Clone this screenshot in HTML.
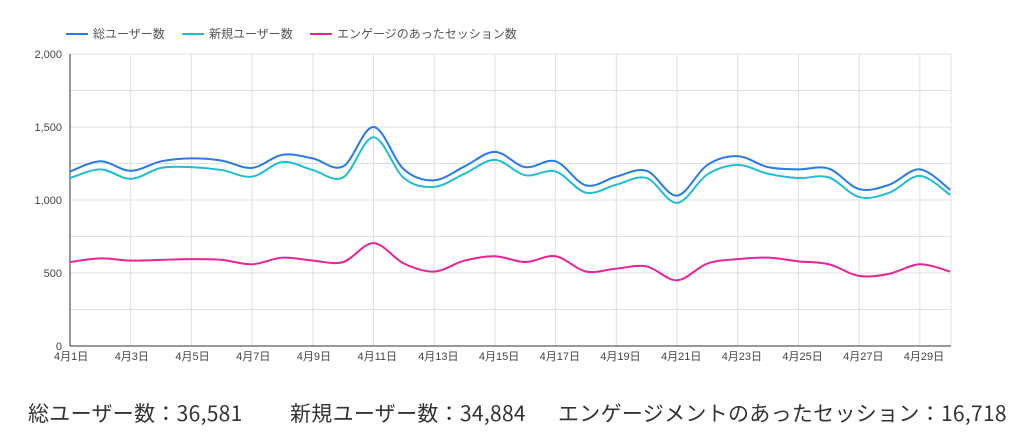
<!DOCTYPE html><html><head><meta charset="utf-8"><style>
body{margin:0;background:#fff;width:1024px;height:443px;overflow:hidden;font-family:"Liberation Sans","Noto Sans CJK JP",sans-serif}
.b{position:absolute;top:398px;font-size:21px;letter-spacing:0.3px;color:#333;white-space:nowrap;font-family:"Noto Sans CJK JP",sans-serif;line-height:30px}
</style></head><body>
<svg id="s" width="1024" height="443" style="position:absolute;left:0;top:0" font-family="Liberation Sans, Noto Sans CJK JP, sans-serif"></svg>
<div class="b" style="left:28px">総ユーザー数：36,581</div>
<div class="b" style="left:290px">新規ユーザー数：34,884</div>
<div class="b" style="left:558px">エンゲージメントのあったセッション：16,718</div>
<script>
var s=document.getElementById('s'),h='';
var X0=70,DX=30.35,Y0=346,K=0.146;
for(var v=250;v<=2000;v+=250){var y=Y0-v*K;h+='<line x1="70" x2="951" y1="'+y+'" y2="'+y+'" stroke="#e0e0e0"/>';}
for(var d=1;d<=30;d+=2){var x=X0+(d-1)*DX;h+='<line x1="'+x+'" x2="'+x+'" y1="54" y2="346" stroke="#e0e0e0"/>';
h+='<text x="'+(x-16)+'" y="360" font-size="11" fill="#444">4月'+d+'日</text>';}
h+='<line x1="951" x2="951" y1="54" y2="346" stroke="#e0e0e0"/>';
[[0,'0'],[500,'500'],[1000,'1,000'],[1500,'1,500'],[2000,'2,000']].forEach(function(t){h+='<text x="62" y="'+(Y0-t[0]*K+4)+'" font-size="11" fill="#444" text-anchor="end">'+t[1]+'</text>';});
h+='<line x1="70" x2="70" y1="54" y2="346" stroke="#333"/><line x1="70" x2="951" y1="346" y2="346" stroke="#333"/>';
var D=[
['#2a7be4',[1195,1265,1200,1265,1285,1270,1220,1310,1285,1230,1500,1210,1135,1230,1330,1225,1265,1100,1160,1200,1030,1240,1300,1225,1210,1215,1075,1105,1210,1070]],
['#1fbfd0',[1150,1210,1145,1220,1225,1205,1160,1260,1205,1155,1430,1150,1090,1180,1275,1170,1195,1050,1105,1150,980,1175,1240,1180,1150,1155,1020,1050,1165,1035]],
['#e8249a',[575,600,585,590,595,590,560,605,585,575,705,565,510,585,615,575,615,510,530,545,450,565,595,605,580,560,480,495,560,510]]];
D.forEach(function(s){var p=s[1].map(function(v,i){return [X0+i*DX,Y0-v*K]});
var d='M'+p[0][0]+','+p[0][1];
for(var i=0;i<p.length-1;i++){var a=p[i-1]||p[i],b=p[i],c=p[i+1],e=p[i+2]||c;
d+='C'+(b[0]+(c[0]-a[0])/6)+','+(b[1]+(c[1]-a[1])/6)+' '+(c[0]-(e[0]-b[0])/6)+','+(c[1]-(e[1]-b[1])/6)+' '+c[0]+','+c[1];}
h+='<path d="'+d+'" fill="none" stroke="'+s[0]+'" stroke-width="2"/>';});
var L=[['#2a7be4','総ユーザー数',66],['#1fbfd0','新規ユーザー数',182],['#e8249a','エンゲージのあったセッション数',310]];
L.forEach(function(l){h+='<line x1="'+l[2]+'" x2="'+(l[2]+22)+'" y1="34" y2="34" stroke="'+l[0]+'" stroke-width="2"/><text x="'+(l[2]+27)+'" y="38" font-size="12" fill="#555">'+l[1]+'</text>';});
s.innerHTML=h;
</script></body></html>
